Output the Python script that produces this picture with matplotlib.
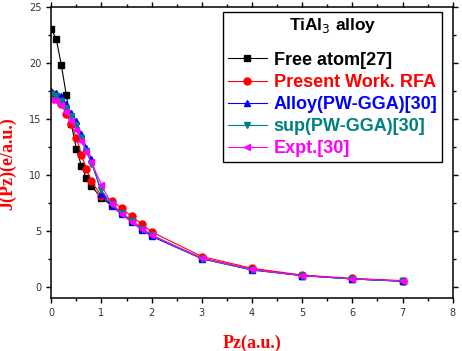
"""Compton profile of TiAl3 alloy: J(Pz) vs Pz for several models."""

import matplotlib.pyplot as plt
from matplotlib.ticker import MultipleLocator

# Momentum grid (a.u.)
pz = [0.0, 0.1, 0.2, 0.3, 0.4, 0.5, 0.6, 0.7, 0.8, 1.0,
      1.2, 1.4, 1.6, 1.8, 2.0, 3.0, 4.0, 5.0, 6.0, 7.0]

free_atom = [23.0, 22.1, 19.8, 17.1, 14.5, 12.3, 10.8, 9.7, 9.0, 7.9,
             7.3, 6.6, 5.9, 5.2, 4.6, 2.55, 1.55, 1.0, 0.7, 0.5]
present_rfa = [17.3, 17.0, 16.3, 15.4, 14.5, 13.3, 11.8, 10.5, 9.4, 8.1,
               7.7, 7.0, 6.3, 5.6, 4.9, 2.7, 1.65, 1.05, 0.75, 0.55]
alloy_gga = [17.5, 17.3, 17.0, 16.3, 15.5, 14.8, 13.6, 12.4, 11.4, 8.3,
             7.2, 6.5, 5.8, 5.1, 4.5, 2.5, 1.5, 1.0, 0.7, 0.5]
sup_gga = [17.2, 17.0, 16.6, 16.0, 15.2, 14.4, 13.3, 12.1, 11.0, 8.6,
           7.4, 6.6, 5.9, 5.2, 4.6, 2.5, 1.5, 1.0, 0.7, 0.5]
expt = [16.7, 16.6, 16.2, 15.6, 14.8, 14.0, 13.0, 12.0, 11.1, 9.1,
        7.4, 6.5, 5.8, 5.2, 4.6, 2.55, 1.55, 1.0, 0.72, 0.52]

series = [
    ("Free atom[27]", free_atom, "black", "s"),
    ("Present Work. RFA", present_rfa, "red", "o"),
    ("Alloy(PW-GGA)[30]", alloy_gga, "blue", "^"),
    ("sup(PW-GGA)[30]", sup_gga, "#008080", "v"),
    ("Expt.[30]", expt, "magenta", "<"),
]

fig = plt.figure(figsize=(4.62, 3.51), dpi=100)
ax = fig.add_axes([0.111, 0.151, 0.869, 0.830])

for label, vals, color, marker in series:
    ax.plot(pz, vals, color=color, marker=marker, markersize=5,
            linewidth=0.8, label=label)

ax.set_xlim(0, 8)
ax.set_ylim(-1, 25)
ax.xaxis.set_major_locator(MultipleLocator(1))
ax.xaxis.set_minor_locator(MultipleLocator(0.5))
ax.yaxis.set_major_locator(MultipleLocator(5))
ax.yaxis.set_minor_locator(MultipleLocator(2.5))
ax.tick_params(which="both", direction="out", top=True, right=True,
               labelsize=7, labelcolor="#333333", width=1)
ax.tick_params(which="major", length=3.5)
ax.tick_params(which="minor", length=2.5)
for sp in ax.spines.values():
    sp.set_linewidth(1.1)

ax.set_xlabel("Pz(a.u.)", family="Liberation Serif", fontweight="bold",
              fontsize=13, color="red", labelpad=12)
ax.set_ylabel("J(Pz)(e/a.u.)", family="Liberation Serif", fontweight="bold",
              fontsize=13, color="red")
ax.yaxis.set_label_coords(-0.088, 0.46)

leg = ax.legend(loc="upper right", bbox_to_anchor=(0.973, 0.983),
                borderaxespad=0, title="TiAl$_3$ alloy", fancybox=False,
                framealpha=1, edgecolor="black", handlelength=2.2,
                labelspacing=0.28, borderpad=0.25, handletextpad=0.35,
                prop={"family": "Liberation Sans", "weight": "bold", "size": 13})
leg.get_title().set_fontproperties(
    {"family": "Liberation Sans", "weight": "bold", "size": 12.5})
leg._legend_box.sep = 12
leg.get_frame().set_linewidth(1.0)
for text, (_, _, color, _) in zip(leg.get_texts(), series):
    text.set_color(color)

fig.savefig("out.png", dpi=100)
